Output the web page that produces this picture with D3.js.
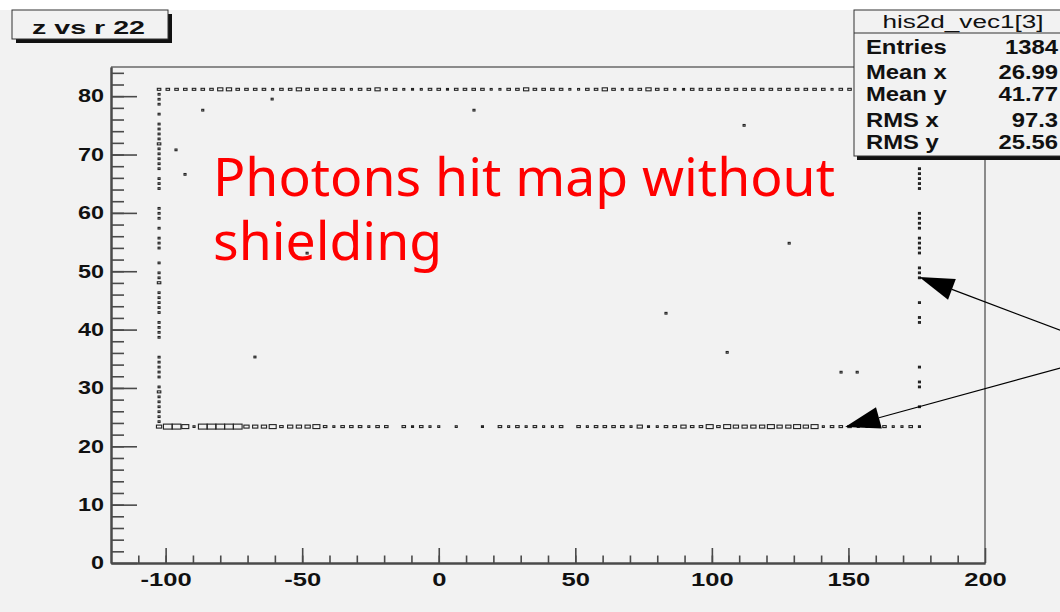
<!DOCTYPE html>
<html>
<head>
<meta charset="utf-8">
<script src="https://cdn.jsdelivr.net/npm/d3@7"></script>
<style>
    body { margin: 0; background: #fff; }
    svg { display: block; }
</style>
</head>
<body>
<svg id="chart"></svg>
<script>
// histogram definition (ROOT TH2 style binning)
const xHist = { min: -120, max: 200, bins: 100 };
const yHist = { min: 0, max: 85, bins: 100 };
const boxMax = 5;

// top row (y bin 95), counts from x bin 5 to 92
const topRowBin = 95;
const topRowStart = 5;
const topRowCounts = [
    2, 2, 2, 2, 2, 2, 2, 3, 3, 2,
    2, 2, 2, 1, 2, 2, 3, 2, 2, 2,
    2, 2, 1, 2, 2, 3, 1, 2, 1, 1,
    1, 2, 2, 1, 2, 2, 2, 2, 1, 1,
    2, 2, 3, 2, 2, 2, 2, 1, 1, 2,
    2, 3, 2, 1, 2, 2, 3, 2, 2, 1,
    1, 2, 2, 2, 2, 2, 2, 2, 2, 2,
    2, 2, 2, 2, 2, 2, 2, 1, 2, 2,
    2, 1, 2, 2, 2, 2, 1, 2
];

// bottom row (y bin 27), counts from x bin 5 to 92
const bottomRowBin = 27;
const bottomRowStart = 5;
const bottomRowCounts = [
    3, 5, 5, 4, 1, 5, 5, 5, 5, 5,
    3, 3, 3, 4, 2, 3, 3, 3, 4, 2,
    1, 2, 2, 2, 1, 2, 2, 0, 2, 1,
    2, 1, 1, 0, 1, 0, 0, 1, 0, 2,
    1, 2, 1, 2, 1, 1, 2, 0, 2, 1,
    2, 2, 2, 2, 1, 3, 1, 1, 2, 2,
    3, 2, 2, 4, 2, 4, 3, 3, 3, 3,
    4, 3, 3, 4, 3, 4, 1, 2, 2, 2,
    1, 1, 1, 2, 1, 1, 2, 1
];

// left column (x bin 5)
const leftColBin = 5;
const leftColYBins = [94, 93, 92, 90, 88, 87, 86, 85, 84, 83, 82, 81, 80, 79, 77, 76, 75,
    71, 70, 69, 67, 65, 64, 63, 60, 58, 57, 56, 54, 53, 52, 51, 50, 48, 47, 46, 45,
    41, 40, 39, 38, 37, 35, 34, 33, 32, 31, 30, 29, 28];
const leftColCounts = [1, 1, 1, 1, 1, 1, 1, 1, 2, 1, 1, 1, 1, 1, 1, 1, 1,
    1, 1, 1, 1, 1, 1, 1, 1, 1, 1, 2, 1, 1, 1, 1, 1, 1, 1, 1, 1,
    1, 1, 1, 1, 1, 1, 2, 1, 1, 1, 1, 1, 1];

// right column (x bin 92)
const rightColBin = 92;
const rightColYBins = [79, 78, 77, 76, 75, 70, 69, 68, 67, 65, 64, 63, 62, 59, 58, 57, 52, 49, 48, 39, 36, 35, 31];
const rightColCounts = [1, 1, 1, 1, 1, 1, 1, 1, 1, 1, 1, 1, 1, 1, 1, 1, 1, 1, 1, 1, 1, 1, 1];

// single hits inside the frame
const strayX = [-86.4, -96.2, -92.9, -61.0, 12.9, 111.8, 128.3, 83.2, 105.6, -67.3, 147.3, 153.2, -48.2];
const strayY = [77.6, 70.8, 66.6, 79.5, 77.6, 75.0, 54.8, 42.8, 36.1, 35.3, 32.7, 32.7, 53.1];

const xTicks = [-100, -50, 0, 50, 100, 150, 200];
const yTicks = [0, 10, 20, 30, 40, 50, 60, 70, 80];

const titleText = "z vs r 22";
const statsTitle = "his2d_vec1[3]";
const statsLabels = ["Entries", "Mean x", "Mean y", "RMS x", "RMS y"];
const statsValues = ["1384", "26.99", "41.77", "97.3", "25.56"];
const noteLines = ["Photons hit map without", "shielding"];

// arrow tails (outside the frame) and tips, in axis units
const arrowFrom = [[227.5, 39.9], [227.5, 33.4]];
const arrowTo = [[175.9, 49.0], [148.8, 23.3]];

const W = 1060, H = 612;
const bg = "#f2f2f2";
const axisColor = "#4a4a4a";

const svg = d3.select("#chart")
    .attr("width", W)
    .attr("height", H);

svg.append("rect").attr("width", W).attr("height", H).attr("fill", bg);
svg.append("rect").attr("width", W).attr("height", 10).attr("fill", "#fff");

const x = d3.scaleLinear().domain([xHist.min, xHist.max]).range([111, 985]);
const y = d3.scaleLinear().domain([yHist.min, yHist.max]).range([563, 67]);

const xStep = (xHist.max - xHist.min) / xHist.bins;
const yStep = (yHist.max - yHist.min) / yHist.bins;
const xCenter = (b) => xHist.min + (b + 0.5) * xStep;
const yCenter = (b) => yHist.min + (b + 0.5) * yStep;

// stretch text horizontally, the ROOT canvas was scaled wider than tall
function stretch(sel, k) {
    sel.each(function () {
        const w = this.getComputedTextLength();
        this.setAttribute("textLength", w * k);
        this.setAttribute("lengthAdjust", "spacingAndGlyphs");
    });
}

// frame (top and right)
svg.append("path")
    .attr("d", `M${x(xHist.min)},${y(yHist.max)}H${x(xHist.max)}V${y(yHist.min)}`)
    .attr("fill", "none")
    .attr("stroke", "#6a6a6a")
    .attr("stroke-width", 1.5);

// collect cells
const cells = [];
topRowCounts.forEach((n, i) => { if (n) cells.push({ x: xCenter(topRowStart + i), y: yCenter(topRowBin), n }); });
bottomRowCounts.forEach((n, i) => { if (n) cells.push({ x: xCenter(bottomRowStart + i), y: yCenter(bottomRowBin), n }); });
leftColYBins.forEach((b, i) => cells.push({ x: xCenter(leftColBin), y: yCenter(b), n: leftColCounts[i] }));
rightColYBins.forEach((b, i) => cells.push({ x: xCenter(rightColBin), y: yCenter(b), n: rightColCounts[i] }));
strayX.forEach((v, i) => cells.push({ x: v, y: strayY[i], n: 1 }));

const bw = x(xHist.min + xStep) - x(xHist.min);
const bh = y(yHist.min) - y(yHist.min + yStep);
const boxW = (n) => Math.max(bw * n / boxMax, 2);
const boxH = (n) => Math.max(bh * n / boxMax, 1.7);

svg.append("g").attr("class", "boxes")
    .selectAll("rect")
    .data(cells)
    .join("rect")
    .attr("x", (d) => x(d.x) - boxW(d.n) / 2)
    .attr("y", (d) => y(d.y) - boxH(d.n) / 2)
    .attr("width", (d) => boxW(d.n))
    .attr("height", (d) => boxH(d.n))
    .attr("fill", "none")
    .attr("stroke", "#222")
    .attr("stroke-width", 1.1);

// axes
const label = (d) => String(d);
const xMinor = d3.axisBottom(x).tickValues(d3.range(-110, 200, 10)).tickSize(-7.5).tickSizeOuter(0).tickFormat("");
const yMinor = d3.axisLeft(y).tickValues(d3.range(2, 85, 2)).tickSize(-13).tickSizeOuter(0).tickFormat("");
const xAxis = d3.axisBottom(x).tickValues(xTicks).tickSize(-15).tickSizeOuter(0).tickPadding(10).tickFormat(label);
const yAxis = d3.axisLeft(y).tickValues(yTicks).tickSize(-26).tickSizeOuter(0).tickPadding(7).tickFormat(label);

const gx = svg.append("g").attr("transform", `translate(0,${y(yHist.min)})`);
gx.append("g").call(xMinor);
gx.append("g").call(xAxis);
const gy = svg.append("g").attr("transform", `translate(${x(xHist.min)},0)`);
gy.append("g").call(yMinor);
gy.append("g").call(yAxis);

svg.selectAll(".domain").attr("stroke", axisColor).attr("stroke-width", 2);
svg.selectAll(".tick line").attr("stroke", axisColor).attr("stroke-width", 1.6);
svg.selectAll(".tick text")
    .attr("fill", "#111")
    .attr("font-family", "'Liberation Sans', Arial, sans-serif")
    .attr("font-weight", "bold")
    .attr("font-size", 18);
stretch(gx.selectAll(".tick text"), 1.42);
stretch(gy.selectAll(".tick text"), 1.3);

// annotation text
const note = svg.append("text")
    .attr("fill", "#ff0000")
    .attr("font-family", "'Noto Sans', sans-serif")
    .attr("font-size", 53.5);
note.selectAll("tspan")
    .data(noteLines)
    .join("tspan")
    .attr("x", 213)
    .attr("y", (d, i) => 196 + i * 64)
    .text((d) => d);

// arrows
const arrows = svg.append("g");
arrowFrom.forEach((p, i) => {
    const x0 = x(p[0]), y0 = y(p[1]);
    const x1 = x(arrowTo[i][0]), y1 = y(arrowTo[i][1]);
    const a = Math.atan2(y1 - y0, x1 - x0);
    const len = 35, half = 11;
    const bx = x1 - len * Math.cos(a), by = y1 - len * Math.sin(a);
    arrows.append("line")
        .attr("x1", x0).attr("y1", y0).attr("x2", bx).attr("y2", by)
        .attr("stroke", "#000").attr("stroke-width", 1.2);
    arrows.append("path")
        .attr("d", `M${x1},${y1}L${bx + half * Math.sin(a)},${by - half * Math.cos(a)}L${bx - half * Math.sin(a)},${by + half * Math.cos(a)}Z`)
        .attr("fill", "#000");
});

// title box
const title = svg.append("g");
title.append("rect").attr("x", 16).attr("y", 14).attr("width", 156).attr("height", 29).attr("fill", "#111");
title.append("rect").attr("x", 12).attr("y", 10).attr("width", 156).attr("height", 29)
    .attr("fill", bg).attr("stroke", "#333").attr("stroke-width", 1);
title.append("text")
    .attr("x", 32).attr("y", 34)
    .attr("font-family", "'Liberation Sans', Arial, sans-serif")
    .attr("font-weight", "bold")
    .attr("font-size", 19)
    .attr("fill", "#111")
    .text(titleText)
    .attr("textLength", 113)
    .attr("lengthAdjust", "spacingAndGlyphs");

// stats box
const stats = svg.append("g");
stats.append("rect").attr("x", 857).attr("y", 14).attr("width", 220).attr("height", 146).attr("fill", "#111");
stats.append("rect").attr("x", 854).attr("y", 10).attr("width", 220).attr("height", 146)
    .attr("fill", bg).attr("stroke", "#333").attr("stroke-width", 1);
stats.append("line").attr("x1", 854).attr("x2", 1060).attr("y1", 33).attr("y2", 33)
    .attr("stroke", "#333").attr("stroke-width", 1);
const head = stats.append("text")
    .attr("x", 963).attr("y", 28)
    .attr("text-anchor", "middle")
    .attr("font-family", "'Liberation Sans', Arial, sans-serif")
    .attr("font-size", 18)
    .attr("fill", "#111")
    .text(statsTitle);
stretch(head, 1.45);

const rowY = [54, 79, 101, 127, 149];
const lab = stats.selectAll(".lab")
    .data(statsLabels)
    .join("text")
    .attr("class", "lab")
    .attr("x", 866)
    .attr("y", (d, i) => rowY[i])
    .text((d) => d);
const val = stats.selectAll(".val")
    .data(statsValues)
    .join("text")
    .attr("class", "val")
    .attr("x", 1058)
    .attr("y", (d, i) => rowY[i])
    .attr("text-anchor", "end")
    .text((d) => d);
stats.selectAll(".lab, .val")
    .attr("font-family", "'Liberation Sans', Arial, sans-serif")
    .attr("font-weight", "bold")
    .attr("font-size", 20)
    .attr("fill", "#111");
stretch(lab, 1.19);
stretch(val, 1.19);
</script>
</body>
</html>
